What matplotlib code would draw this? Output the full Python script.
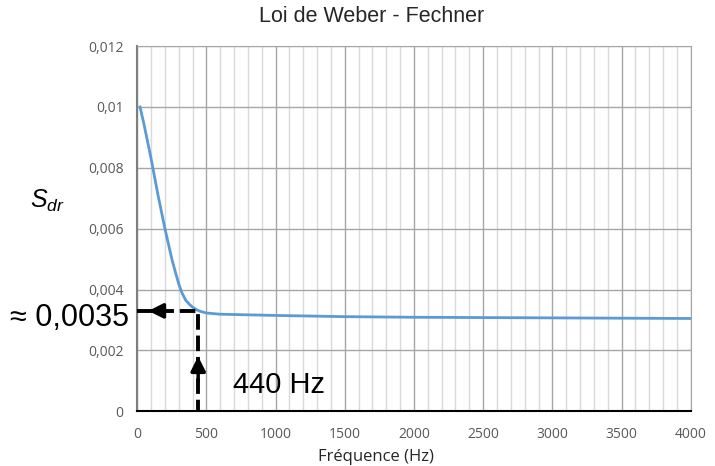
import matplotlib
matplotlib.use("Agg")
import matplotlib.pyplot as plt
from matplotlib.ticker import MultipleLocator

plt.rcParams['mathtext.fontset'] = 'custom'
plt.rcParams['mathtext.it'] = 'Liberation Sans:italic'
plt.rcParams['mathtext.rm'] = 'Liberation Sans'

# courbe
freq = [20, 50, 100, 150, 200, 250, 280, 300, 320, 350, 380, 400, 430, 460,
        500, 600, 800, 1000, 1500, 2000, 2500, 3000, 3500, 4000]
sdr = [0.0100, 0.0094, 0.0083, 0.0071, 0.0060, 0.0050, 0.00450, 0.00418,
       0.00392, 0.00365, 0.00350, 0.00342, 0.00333, 0.00328, 0.00323,
       0.00319, 0.00317, 0.00315, 0.00311, 0.00309, 0.00308, 0.00307,
       0.00306, 0.00305]

xticks = [0, 500, 1000, 1500, 2000, 2500, 3000, 3500, 4000]
yticks = [0, 0.002, 0.004, 0.006, 0.008, 0.01, 0.012]
ylabels = ['0', '0,002', '0,004', '0,006', '0,008', '0,01', '0,012']

f_mark = 440
s_mark = 0.0033

fig = plt.figure(figsize=(7.15, 4.66), dpi=100)
ax = fig.add_axes([0.192, 0.1174, 0.774, 0.7836])

ax.plot(freq, sdr, color='#5B9BD5', lw=2.0, zorder=3)

ax.set_xlim(0, 4000)
ax.set_ylim(0, 0.012)
ax.set_xticks(xticks)
ax.set_xticklabels([str(v) for v in xticks])
ax.set_yticks(yticks)
ax.set_yticklabels(ylabels)
ax.xaxis.set_minor_locator(MultipleLocator(100))
ax.tick_params(which='both', length=0)
ax.tick_params(axis='x', pad=11, labelsize=10, labelcolor='#595959')
ax.tick_params(axis='y', pad=10, labelsize=10, labelcolor='#595959')
for lab in ax.get_xticklabels() + ax.get_yticklabels():
    lab.set_family('Open Sans')

ax.grid(which='major', axis='both', color='#a6a6a6', lw=1.0)
ax.grid(which='minor', axis='x', color='#d9d9d9', lw=1.0)
ax.set_axisbelow(True)
for s in ['top', 'right']:
    ax.spines[s].set_color('#a6a6a6')
ax.spines['left'].set_color('#7f7f7f')
ax.spines['bottom'].set_color('black')
ax.spines['left'].set_linewidth(1.5)
ax.spines['bottom'].set_linewidth(1.5)

fig.text(0.52, 0.965, 'Loi de Weber - Fechner', fontsize=15.5,
         family='Liberation Sans', color='#262626', ha='center', va='center')
fig.text(0.526, 0.019, 'Fréquence (Hz)', fontsize=12, family='Open Sans',
         color='#262626', ha='center', va='center')
fig.text(0.042, 0.555, r'$S_{dr}$', fontsize=18, color='black')

# lecture graphique : pointillés et flèches
ax.plot([0, f_mark, f_mark], [s_mark, s_mark, 0], color='black', lw=2.8,
        ls=(0, (4, 1.5)), zorder=4, clip_on=False)
ax.annotate('', xy=(60, s_mark), xytext=(200, s_mark),
            arrowprops=dict(arrowstyle='-|>', color='black', lw=2.5,
                            mutation_scale=22), zorder=5)
ax.annotate('', xy=(f_mark, 0.0019), xytext=(f_mark, 0.0009),
            arrowprops=dict(arrowstyle='-|>', color='black', lw=2.5,
                            mutation_scale=22), zorder=5)
fig.text(0.014, 0.318, '≈ 0,0035', fontsize=22, family='Liberation Sans',
         color='black', va='center')
ax.text(690, 0.00085, '440 Hz', fontsize=21, family='Liberation Sans',
        color='black', va='center')

fig.savefig('out.png', dpi=100)
